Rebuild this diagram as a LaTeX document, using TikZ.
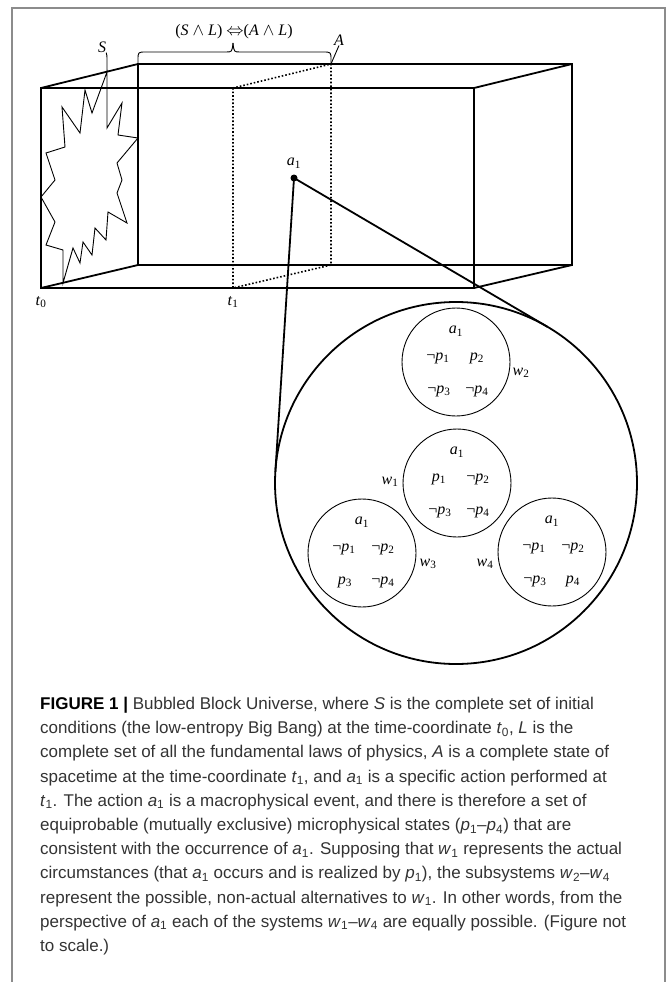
\documentclass[tikz,border=0pt]{standalone}
\usepackage{fontspec}
\setmainfont{Liberation Serif}
\newfontfamily\capfont{Liberation Sans}
\usetikzlibrary{calc}

\definecolor{framegray}{HTML}{8C8C8C}
\definecolor{capgray}{HTML}{333333}

\newcommand{\vsub}[2]{\textit{#1}\textsubscript{#2}}
\newcommand{\pitem}[2]{\ifnum#1=1\else¬\fi\vsub{p}{#2}}

\tikzset{
  boxline/.style={line width=1.8pt, line join=miter},
  sliceline/.style={line width=1.6pt, dotted},
  starline/.style={line width=0.9pt, line join=miter},
  leader/.style={line width=0.9pt},
  worldcircle/.style={circle, draw, line width=0.9pt, minimum size=108pt, inner sep=0pt, outer sep=0pt},
  bigcircle/.style={circle, draw, line width=1.8pt, minimum size=362pt, inner sep=0pt, outer sep=0pt},
  dotnode/.style={circle, fill, minimum size=7pt, inner sep=0pt},
  lbl/.style={font=\fontsize{16}{18}\selectfont, inner sep=0pt},
  captext/.style={font=\capfont\fontsize{17}{24.2}\selectfont, align=left, inner sep=0pt, text=capgray},
}

\begin{document}
\begin{tikzpicture}[x=1pt, y=-1pt]
    % Page and frame
    \useasboundingbox (0,0) rectangle (667,982);
    \draw[framegray, line width=1.2pt] (12,982) -- (12,8) -- (665,8) -- (665,982);

    % Corners of the block
    \coordinate (F1) at (41,88);
    \coordinate (F2) at (474,88);
    \coordinate (F3) at (474,288);
    \coordinate (F4) at (41,288);
    \coordinate (B1) at (138,64);
    \coordinate (B2) at (572,64);
    \coordinate (B3) at (572,265);
    \coordinate (B4) at (138,265);

    % Corners of the slice A
    \coordinate (T1) at (233,88);
    \coordinate (T2) at (233,288);
    \coordinate (A1) at (331,64);
    \coordinate (A2) at (331,265);

    % Draw the block
    \draw[boxline] (F1) rectangle (F3);
    \draw[boxline] (B1) rectangle (B3);
    \foreach \c in {1,...,4} {
            \draw[boxline] (F\c) -- (B\c);
        }
    \draw[sliceline] (T1) -- (T2) -- (A2) -- (A1) -- cycle;

    % Big Bang burst
    \draw[starline] (107,72) -- (92,113) -- (85,90) -- (80,133) -- (62,107) -- (65,147)
        -- (46,153) -- (55,180) -- (41,197) -- (55,222) -- (46,245) -- (63,250)
        -- (63,283) -- (73,248) -- (80,263) -- (83,242) -- (92,255) -- (95,228)
        -- (106,240) -- (108,212) -- (127,223) -- (117,193) -- (122,180) -- (117,163)
        -- (138,138) -- (118,135) -- (122,103) -- (107,128) -- cycle;

    % Brace over the laws
    \draw[leader] (B1) -- (138,60) .. controls (138,52) .. (146,52) -- (226,52)
        .. controls (232,52) .. (233,43);
    \draw[leader] (233,43) .. controls (234,52) .. (240,52) -- (323,52)
        .. controls (331,52) .. (331,60) -- (A1);

    % Labels of the block
    \node[lbl] (eqlbl) at (234,32) {(\textit{S} $\wedge$ \textit{L}) $\Leftrightarrow$(\textit{A} $\wedge$ \textit{L})};
    \node[lbl] (Alab) at (339,40) {\textit{A}};
    \node[lbl] (Slab) at (102,47) {\textit{S}};
    \node[lbl] (t0lab) at (41,302) {\vsub{t}{0}};
    \node[lbl] (t1lab) at (233,302) {\vsub{t}{1}};
    \draw[leader] (Alab.south) .. controls (334,57) .. (A1);
    \draw[leader] (Slab.south east) .. controls (107,55) .. (107,63) -- (107,72);

    % The action and its bubble
    \node[lbl] (a1lab) at (294,163) {\vsub{a}{1}};
    \node[dotnode] (a1dot) at (294,178) {};
    \node[bigcircle] (bubble) at (456,483) {};
    \draw[boxline] (a1dot.center) -- (tangent cs:node=bubble,point={(a1dot.center)},solution=1);
    \draw[boxline] (a1dot.center) -- (tangent cs:node=bubble,point={(a1dot.center)},solution=2);

    % Possible worlds w1--w4
    \foreach \w/\n/\x/\y/\lx/\ly/\fa/\fb/\fc/\fd in {
            wa/1/457/483/-67/-1/1/0/0/0,
            wb/2/456/362/65/11/0/1/0/0,
            wc/3/362/553/66/11/0/0/1/0,
            wd/4/552/552/-67/12/0/0/0/1} {
            \node[worldcircle] (\w) at (\x,\y) {};
            \node[lbl] (\w-a) at ($(\w)+(0,-31)$) {\vsub{a}{1}};
            \node[lbl] (\w-p1) at ($(\w)+(-18,-4)$) {\pitem{\fa}{1}};
            \node[lbl] (\w-p2) at ($(\w)+(21,-4)$) {\pitem{\fb}{2}};
            \node[lbl] (\w-p3) at ($(\w)+(-17,29)$) {\pitem{\fc}{3}};
            \node[lbl] (\w-p4) at ($(\w)+(21,29)$) {\pitem{\fd}{4}};
            \node[lbl] (\w-lab) at ($(\w)+(\lx,\ly)$) {\vsub{w}{\n}};
        }

    % Caption
    \node[captext, anchor=north west] (caption) at (40,697) {%
        \textcolor{black}{\textbf{FIGURE 1 |}} Bubbled Block Universe, where \textit{S} is the complete set of initial\\
        conditions (the low-entropy Big Bang) at the time-coordinate \vsub{t}{0}, \textit{L} is the\\
        complete set of all the fundamental laws of physics, \textit{A} is a complete state of\\
        spacetime at the time-coordinate \vsub{t}{1}, and \vsub{a}{1} is a specific action performed at\\
        \vsub{t}{1}. The action \vsub{a}{1} is a macrophysical event, and there is therefore a set of\\
        equiprobable (mutually exclusive) microphysical states (\vsub{p}{1}–\vsub{p}{4}) that are\\
        consistent with the occurrence of \vsub{a}{1}. Supposing that \vsub{w}{1} represents the actual\\
        circumstances (that \vsub{a}{1} occurs and is realized by \vsub{p}{1}), the subsystems \vsub{w}{2}–\vsub{w}{4}\\
        represent the possible, non-actual alternatives to \vsub{w}{1}. In other words, from the\\
        perspective of \vsub{a}{1} each of the systems \vsub{w}{1}–\vsub{w}{4} are equally possible. (Figure not\\
        to scale.)};
\end{tikzpicture}
\end{document}
